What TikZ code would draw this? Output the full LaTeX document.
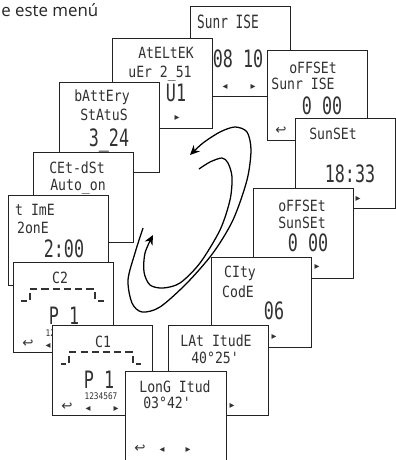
\documentclass[tikz,border=0pt]{standalone}
\usepackage{fontspec}
\usepackage{xcolor}
\usetikzlibrary{arrows.meta}
\newfontfamily\lcdfont[FakeStretch=0.85]{DejaVu Sans Mono}
\newfontfamily\lcdbigfont[FakeStretch=0.7]{DejaVu Sans Mono}
\newfontfamily\symfont{DejaVu Sans}
\newfontfamily\headfont{Open Sans}
\definecolor{lcdink}{RGB}{50,50,50}
\definecolor{frame}{RGB}{35,35,35}

\begin{document}
\begin{tikzpicture}[
    x=0.025cm, y=-0.025cm,
    screen/.style={rectangle, draw=frame, fill=white, line width=0.7pt, minimum width=2.5cm, minimum height=2.26cm, inner sep=0pt, anchor=north west},
    lcd/.style={inner sep=0pt, text=lcdink, font=\lcdfont\fontsize{11}{12}\selectfont},
    lcdbig/.style={inner sep=0pt, text=lcdink, font=\lcdbigfont\fontsize{17}{18}\selectfont},
    lcdtiny/.style={inner sep=0pt, text=lcdink, font=\lcdfont\fontsize{6.5}{7}\selectfont},
    sym/.style={inner sep=0pt, text=lcdink, font=\symfont\fontsize{7}{8}\selectfont},
    ret/.style={inner sep=0pt, text=lcdink, font=\symfont\fontsize{9.5}{10}\selectfont},
    bracket/.style={draw=lcdink, line width=0.8pt, dash pattern=on 5pt off 3pt},
    spiral/.style={->, >={Stealth[length=2.4mm,width=2.2mm]}, line width=0.9pt},
]
\useasboundingbox (0,0) rectangle (395,460);

% Heading
\node[inner sep=0pt, anchor=base west, text=black!85, font=\headfont\fontsize{12}{14}\selectfont] (menu) at (1,16) {e este menú};

% Sunrise
\node[screen] (sunrise) at (190,6) {};
\node[lcd, font=\lcdbigfont\fontsize{13}{14}\selectfont] (sunrise-a) at (228,22) {Sunr ISE};
\node[lcdbig] (sunrise-v) at (238,59) {08 10};
\node[ret] (sunrise-ret) at (206,86) {↩};
\node[sym] (sunrise-l) at (225,87) {◂};
\node[sym] (sunrise-r) at (253,87) {▸};

% Version
\node[screen] (ateltek) at (112,38) {};
\node[lcd] (ateltek-a) at (166,53) {AtELtEK};
\node[lcd] (ateltek-b) at (160,74) {uEr 2\_51};
\node[lcdbig] (ateltek-v) at (176,93) {U1};
\node[sym] (ateltek-r) at (177,118) {▸};

% Battery
\node[screen] (battery) at (59,82) {};
\node[lcd] (battery-a) at (102,97) {bAttEry};
\node[lcd] (battery-b) at (104,115) {StAtuS};
\node[lcdbig] (battery-v) at (109,140) {3\_24};

% Summer time
\node[screen] (cetdst) at (33,152) {};
\node[lcd] (cetdst-a) at (77,168) {CEt-dSt};
\node[lcd] (cetdst-b) at (78,187) {Auto\_on};

% Time zone
\node[screen] (timezone) at (8,195) {};
\node[lcd] (timezone-a) at (35,210) {t ImE};
\node[lcd] (timezone-b) at (33,228) {2onE};
\node[lcdbig] (timezone-v) at (64,249) {2:00};

% Channel 2
\node[screen] (ctwo) at (13,262) {};
\node[lcd] (ctwo-a) at (60,278) {C2};
\draw[bracket] (21,301) -- (27,301) (30,300) -- (30,289) -- (95,289) -- (95,300) (98,301) -- (104,301);
\node[lcdbig] (ctwo-v) at (64,316) {P 1};
\node[lcdtiny] (ctwo-d) at (62,333) {1234567};
\node[ret] (ctwo-ret) at (28,344) {↩};
\node[sym] (ctwo-l) at (48,346) {◂};

% Channel 1
\node[screen] (cone) at (52,325) {};
\node[lcd] (cone-a) at (103,342) {C1};
\draw[bracket] (61,364) -- (66,364) (69,363) -- (69,352) -- (133,352) -- (133,363) (136,364) -- (141,364);
\node[lcdbig] (cone-v) at (99,380) {P 1};
\node[lcdtiny] (cone-d) at (101,396) {1234567};
\node[ret] (cone-ret) at (67,407) {↩};
\node[sym] (cone-l) at (88,409) {◂};
\node[sym] (cone-r) at (116,409) {▸};

% Sunrise offset
\node[screen] (offrise) at (267,50) {};
\node[lcd] (offrise-a) at (313,68) {oFFSEt};
\node[lcd] (offrise-b) at (303,84) {Sunr ISE};
\node[lcdbig] (offrise-v) at (322,106) {0 00};
\node[ret] (offrise-ret) at (281,131) {↩};

% Sunset
\node[screen] (sunset) at (295,118) {};
\node[lcd] (sunset-a) at (333,134) {SunSEt};
\node[lcdbig] (sunset-v) at (350,174) {18:33};
\node[sym] (sunset-r) at (358,199) {▸};

% Sunset offset
\node[screen] (offset) at (253,188) {};
\node[lcd] (offset-a) at (302,206) {oFFSEt};
\node[lcd] (offset-b) at (302,223) {SunSEt};
\node[lcdbig] (offset-v) at (308,243) {0 00};
\node[sym] (offset-r) at (317,267) {▸};

% City code
\node[screen] (city) at (211,257) {};
\node[lcd] (city-a) at (240,273) {CIty};
\node[lcd] (city-b) at (238,292) {CodE};
\node[lcdbig] (city-v) at (274,311) {06};
\node[sym] (city-r) at (274,337) {▸};

% Latitude
\node[screen] (lat) at (168,325) {};
\node[lcd] (lat-a) at (216,341) {LAt ItudE};
\node[lcd] (lat-b) at (215,358) {40°25'};
\node[sym] (lat-r) at (232,406) {▸};

% Longitude
\node[screen, minimum width=2.52cm] (long) at (125,371) {};
\node[lcd] (long-a) at (175,387) {LonG Itud};
\node[lcd] (long-b) at (167,403) {03°42'};
\node[ret] (long-ret) at (140,449) {↩};
\node[sym] (long-l) at (162,450) {◂};
\node[sym] (long-r) at (188,450) {▸};

% Turning arrows
\draw[spiral] plot[smooth] coordinates {(143,228) (135,253) (128,280) (132,303) (142,312) (160,307) (187,283) (213,253) (233,220) (247,180) (251,150) (247,132) (235,127) (220,132) (203,143) (190,155)};
\draw[spiral] plot[smooth] coordinates {(199,169) (210,162) (222,158) (228,163) (232,177) (230,200) (220,230) (200,263) (180,283) (163,288) (150,285) (144,272) (145,253) (153,235)};

\end{tikzpicture}
\end{document}
